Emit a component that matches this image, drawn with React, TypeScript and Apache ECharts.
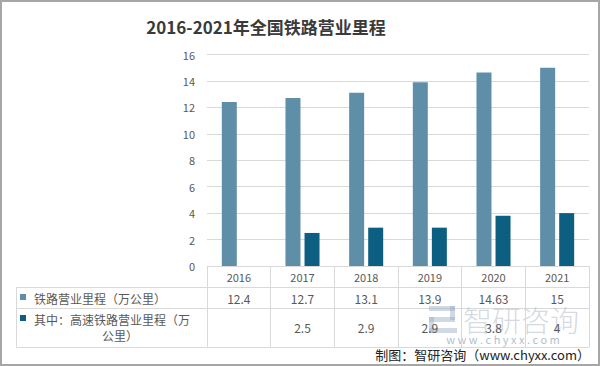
import React, { useEffect, useRef } from "react";
import * as echarts from "echarts";

const years = ["2016", "2017", "2018", "2019", "2020", "2021"];
const railway = [12.4, 12.7, 13.1, 13.9, 14.63, 15];
const highSpeed: (number | null)[] = [null, 2.5, 2.9, 2.9, 3.8, 4];
const seriesNames = ["铁路营业里程（万公里）", "其中：高速铁路营业里程（万公里）"];
const yTicks = { min: 0, max: 16, interval: 2 };

const C1 = "#5f8fa8";
const C2 = "#0c5f80";
const TXT = "#595959";
const LINE = "#d9d9d9";
const FONT = "'Noto Sans CJK SC', 'Noto Sans', sans-serif";

export default function App() {
  const ref = useRef<HTMLDivElement>(null);
  useEffect(() => {
    if (!ref.current) return;
    const chart = echarts.init(ref.current, null, { renderer: "svg" });
    const gridLeft = 207;
    const gridRight = 11;
    const gridTop = 54.5;
    const gridBottom = 100;
    chart.setOption({
      animation: false,
      backgroundColor: "#ffffff",
      textStyle: { fontFamily: FONT },
      title: {
        text: "2016-2021年全国铁路营业里程",
        left: 261,
        textAlign: "center",
        top: 13,
        textStyle: { fontSize: 17, fontWeight: "bold", color: "#3a3a3a", fontFamily: FONT },
      },
      grid: { left: gridLeft, right: gridRight, top: gridTop, bottom: gridBottom },
      xAxis: {
        type: "category",
        data: years,
        axisLine: { show: true, lineStyle: { color: LINE } },
        axisTick: { show: true, length: 81, lineStyle: { color: LINE } },
        axisLabel: { color: TXT, fontSize: 11, margin: 5 },
      },
      yAxis: {
        type: "value",
        min: yTicks.min,
        max: yTicks.max,
        interval: yTicks.interval,
        axisLine: { show: false },
        axisTick: { show: false },
        axisLabel: { color: TXT, fontSize: 11, margin: 12 },
        splitLine: { lineStyle: { color: LINE } },
      },
      series: [
        { name: seriesNames[0], type: "bar", data: railway, barWidth: 15, barGap: "27%", itemStyle: { color: C1 } },
        { name: seriesNames[1], type: "bar", data: highSpeed, barWidth: 15, itemStyle: { color: C2 } },
      ],
    });

    const right = 600 - gridRight;
    const elems: any[] = [];
    const hl = (y: number, x1: number, x2: number) =>
      elems.push({ type: "line", shape: { x1, y1: y, x2, y2: y }, style: { stroke: LINE, lineWidth: 1 } });
    hl(287.5, 16, right);
    hl(308.5, 16, right);
    hl(347.5, 16, right);
    elems.push({ type: "line", shape: { x1: 16.5, y1: 287, x2: 16.5, y2: 348 }, style: { stroke: LINE, lineWidth: 1 } });

    // watermark (drawn beneath the table texts)
    const wm = "rgba(150,170,195,0.45)";
    elems.push({ type: "rect", shape: { x: 429, y: 306, width: 26, height: 5 }, style: { fill: wm } });
    elems.push({ type: "rect", shape: { x: 450, y: 306, width: 5, height: 14 }, style: { fill: wm } });
    elems.push({ type: "rect", shape: { x: 429, y: 317, width: 26, height: 5 }, style: { fill: wm } });
    elems.push({ type: "rect", shape: { x: 429, y: 317, width: 5, height: 16 }, style: { fill: wm } });
    elems.push({ type: "rect", shape: { x: 429, y: 328, width: 28, height: 5 }, style: { fill: wm } });
    elems.push({
      type: "text", x: 463, y: 319,
      style: { text: "智研咨询", fontSize: 29, fontWeight: 300, fill: "rgba(160,170,185,0.45)", align: "left", verticalAlign: "middle", fontFamily: FONT },
    });
    elems.push({
      type: "text", x: 503, y: 339,
      style: { text: "w w w . c h y x x . c o m", fontSize: 11, fill: "rgba(150,165,185,0.75)", align: "center", verticalAlign: "middle", fontFamily: FONT },
    });

    years.forEach((_, i) => {
      const x = chart.convertToPixel({ xAxisIndex: 0 }, i) as number;
      elems.push({
        type: "text",
        x,
        y: 298,
        style: { text: String(railway[i]), fontSize: 12, fill: TXT, align: "center", verticalAlign: "middle", fontFamily: FONT },
      });
      if (highSpeed[i] != null) {
        elems.push({
          type: "text",
          x,
          y: 327,
          style: { text: String(highSpeed[i]), fontSize: 12, fill: TXT, align: "center", verticalAlign: "middle", fontFamily: FONT },
        });
      }
    });

    // legend keys and labels
    elems.push({ type: "rect", shape: { x: 20, y: 294, width: 6, height: 6 }, style: { fill: C1 } });
    elems.push({ type: "rect", shape: { x: 20, y: 315, width: 6, height: 6 }, style: { fill: C2 } });
    elems.push({
      type: "text", x: 34, y: 298,
      style: { text: seriesNames[0], fontSize: 12, fill: TXT, align: "left", verticalAlign: "middle", fontFamily: FONT },
    });
    elems.push({
      type: "text", x: 34, y: 319,
      style: { text: "其中：高速铁路营业里程（万", fontSize: 12, fill: TXT, align: "left", verticalAlign: "middle", fontFamily: FONT },
    });
    elems.push({
      type: "text", x: 120, y: 335,
      style: { text: "公里）", fontSize: 12, fill: TXT, align: "center", verticalAlign: "middle", fontFamily: FONT },
    });

    // footer
    elems.push({
      type: "text", x: 590, y: 354,
      style: { text: "制图：智研咨询（www.chyxx.com）", fontSize: 13, fill: "#222", align: "right", verticalAlign: "middle", fontFamily: FONT },
    });

    // outer frame
    elems.push({ type: "rect", shape: { x: 1, y: 1, width: 598, height: 364 }, style: { fill: "none", stroke: "#a6a6a6", lineWidth: 2 } });

    chart.setOption({ graphic: { elements: elems } });
    return () => chart.dispose();
  }, []);
  return <div ref={ref} style={{ position: "absolute", left: 0, top: 0, width: 600, height: 366 }} />;
}
